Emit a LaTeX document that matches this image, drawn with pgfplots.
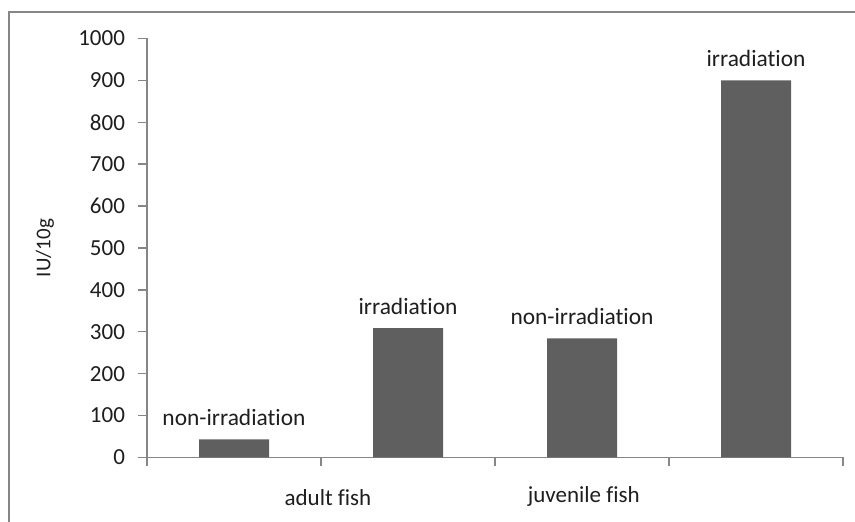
\documentclass[border=0pt]{standalone}
\usepackage{pgfplots}
\pgfplotsset{compat=1.18}
\usepackage{fontspec}
\setmainfont[Ligatures=NoCommon, Numbers=Lining]{Carlito}
\definecolor{barcol}{RGB}{95,95,95}
\definecolor{axcol}{RGB}{134,134,134}
\definecolor{txt}{RGB}{30,30,30}
\begin{document}
\begin{tikzpicture}
\useasboundingbox (0,0) rectangle (427.5pt,261pt);
\draw[axcol, line width=0.8pt] (4.5pt,0) -- (4.5pt,255pt) -- (427.5pt,255pt);
\begin{axis}[
 at={(73.5pt,32.25pt)}, anchor=south west,
 scale only axis, width=348pt, height=209.5pt,
 xmin=0, xmax=4, ymin=0, ymax=1000,
 enlargelimits=false,
 axis x line=bottom, axis y line=left,
 axis line style={-, axcol, line width=0.7pt},
 xtick={0,1,2,3,4}, xticklabels={},
 ytick={0,100,...,1000},
 tick align=outside,
 major tick length=4.5pt,
 tick style={axcol, line width=0.7pt},
 yticklabel style={font=\fontsize{11.5}{13}\selectfont, text=txt, xshift=-3pt},
 /pgf/number format/assume math mode=true,
 /pgf/number format/1000 sep={},
 ylabel={IU/10g},
 ylabel style={font=\fontsize{10.5}{12}\selectfont, text=txt, at={(axis description cs:-0.1466,0.5)}, anchor=center},
 clip=false,
 ybar, bar width=35pt,
 nodes near coords, point meta=explicit symbolic,
 every node near coord/.append style={font=\fontsize{11.7}{13}\selectfont, text=txt, yshift=3.2pt},
]
\addplot[fill=barcol, draw=none] table[meta=label] {
x y label
0.5 43 non-irradiation
1.5 309 irradiation
2.5 284 non-irradiation
3.5 900 irradiation
};
\node[anchor=base, font=\fontsize{11.5}{13}\selectfont, text=txt, yshift=-24.25pt] at (axis cs:1.04,0) {adult fish};
\node[anchor=base, font=\fontsize{11.5}{13}\selectfont, text=txt, yshift=-22.75pt] at (axis cs:2.51,0) {juvenile fish};
\end{axis}
\end{tikzpicture}
\end{document}
